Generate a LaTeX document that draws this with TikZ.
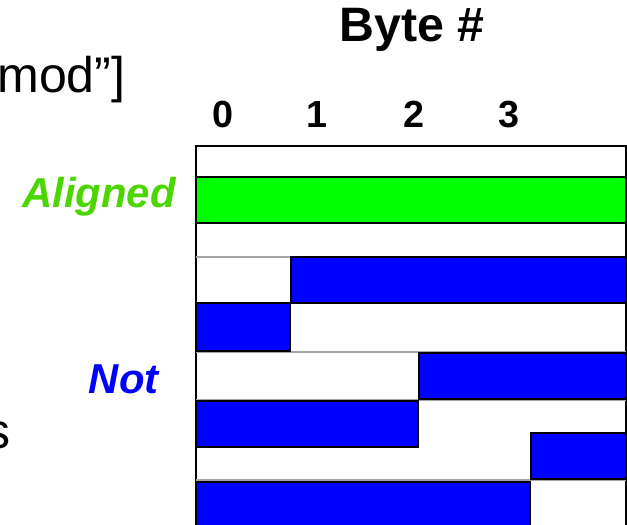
\documentclass[tikz,border=0pt]{standalone}
\usepackage{fontspec}
\setmainfont{Liberation Sans}
\usepackage{tikz}
\usetikzlibrary{positioning}
\definecolor{BarGreen}{HTML}{00FF00}
\definecolor{BarBlue}{HTML}{0000FF}
\definecolor{LabelGreen}{HTML}{4CD600}
\tikzset{
  % Bar styles
  alignbar/.style={draw=black, line width=1.2pt, fill=BarGreen},
  blockbar/.style={draw=black, line width=1.2pt, fill=BarBlue},
  framebox/.style={draw=black, line width=1.2pt, fill=white},
  rowline/.style={draw=black!35, line width=0.6pt},
  % Text styles
  headtext/.style={inner sep=0pt, font=\fontsize{27.5}{32}\selectfont\bfseries},
  digittext/.style={inner sep=0pt, font=\fontsize{21.5}{26}\selectfont\bfseries},
  bodytext/.style={inner sep=0pt, font=\fontsize{28.5}{33}\selectfont},
  sidelabel/.style={inner sep=0pt, font=\fontsize{23.8}{28}\selectfont\bfseries\itshape}
}
\begin{document}
\begin{tikzpicture}[x=0.02cm, y=-0.02cm]
  \useasboundingbox (0,0) rectangle (627,525);
  \clip (0,0) rectangle (627,525);

  % Heading and byte numbers
  \node[headtext, anchor=base] (byte) at (412,41) {Byte \#};
  \foreach \i/\xpos in {0/223, 1/317, 2/414, 3/509} {
    \node[digittext, anchor=base] (d\i) at (\xpos,127) {\i};
  }

  % Text cut off on the left
  \node[bodytext, anchor=base west] (modtxt) at (-3,92) {mod”]};
  \node[bodytext, anchor=base east] (stxt) at (11,448) {s};

  % Frame and row lines
  \draw[framebox] (196,146) rectangle (626,540);
  \foreach \ypos in {257, 303, 352, 400, 480} {
    \draw[rowline] (196,\ypos) -- (626,\ypos);
  }

  % Aligned access
  \draw[alignbar] (196,177) rectangle (626,223);

  % Misaligned accesses
  \draw[blockbar] (291,257) rectangle (626,303);
  \draw[blockbar] (196,303) rectangle (290,351);
  \draw[blockbar] (419,353) rectangle (626,399);
  \draw[blockbar] (196,401) rectangle (418,447);
  \draw[blockbar] (531,433) rectangle (626,479);
  \draw[blockbar] (196,482) rectangle (530,540);

  % Labels
  \node[sidelabel, text=LabelGreen, anchor=base east] (aligned) at (176,207) {Aligned};
  \node[sidelabel, text=BarBlue, anchor=base east] (notlbl) at (159,393) {Not};
\end{tikzpicture}
\end{document}
